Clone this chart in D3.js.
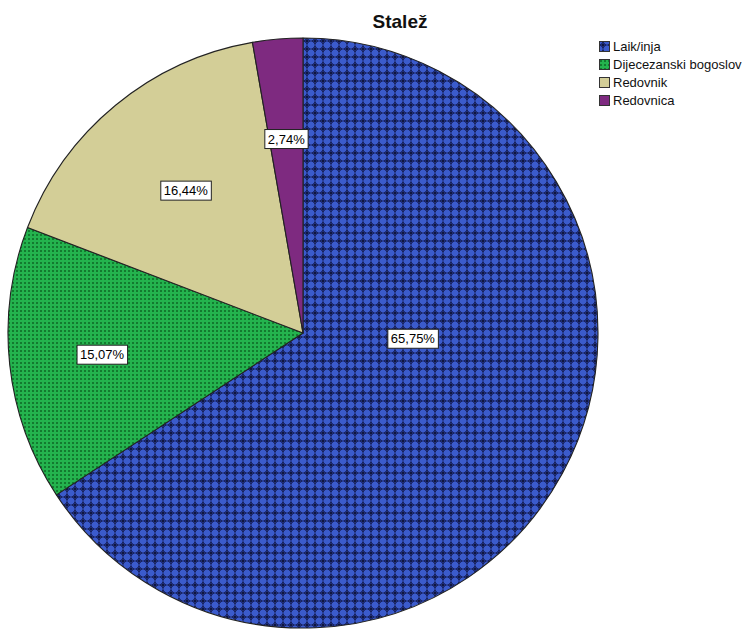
<!DOCTYPE html>
<html><head><meta charset="utf-8">
<script src="https://cdn.jsdelivr.net/npm/d3@7"></script>
<style>html,body{margin:0;padding:0;background:#fff;}svg{display:block;}</style>
</head><body>
<svg id="chart" width="755" height="629"></svg>
<script>
const title = "Stalež";
const categories = ["Laik/inja", "Dijecezanski bogoslov", "Redovnik", "Redovnica"];
const counts = [48, 11, 12, 2];
const percentLabels = ["65,75%", "15,07%", "16,44%", "2,74%"];

// label placement (fraction of radius, optional angle override in degrees)
const labelRadiusFrac = [0.373, 0.685, 0.625, 0.66];
const labelAngleDeg = [93, null, null, null];

const W = 755, H = 629;
const cx = 303, cy = 333, R = 295;

const svg = d3.select("#chart");
const defs = svg.append("defs");

// Blue crosshatch pattern
const pb = defs.append("pattern").attr("id", "pBlue").attr("patternUnits", "userSpaceOnUse")
  .attr("width", 8).attr("height", 8);
pb.append("rect").attr("width", 8).attr("height", 8).attr("fill", "#3b5bcc");
pb.append("rect").attr("x", 3).attr("y", 0).attr("width", 2).attr("height", 8).attr("fill", "#2a3f9a");
pb.append("rect").attr("x", 0).attr("y", 3).attr("width", 8).attr("height", 2).attr("fill", "#2a3f9a");
pb.append("rect").attr("x", 3).attr("y", 1).attr("width", 2).attr("height", 6).attr("fill", "#18245f");
pb.append("rect").attr("x", 1).attr("y", 3).attr("width", 6).attr("height", 2).attr("fill", "#18245f");
pb.append("rect").attr("x", 2).attr("y", 2).attr("width", 4).attr("height", 4).attr("fill", "#1f2d78");
pb.append("rect").attr("x", 3).attr("y", 3).attr("width", 2).attr("height", 2).attr("fill", "#10173f");

// Green dotted pattern
const pg = defs.append("pattern").attr("id", "pGreen").attr("patternUnits", "userSpaceOnUse")
  .attr("width", 4).attr("height", 4);
pg.append("rect").attr("width", 4).attr("height", 4).attr("fill", "#24b34e");
pg.append("rect").attr("x", 1).attr("y", 1).attr("width", 2).attr("height", 2).attr("fill", "#137a2f");

const fills = ["url(#pBlue)", "url(#pGreen)", "#d3ce97", "#7e2a80"];
const swatchFills = fills;

const pie = d3.pie().sort(null).value(d => d).startAngle(0).endAngle(2 * Math.PI);
const arcs = pie(counts);
const arc = d3.arc().innerRadius(0).outerRadius(R);

const g = svg.append("g").attr("transform", `translate(${cx},${cy})`);
g.selectAll("path.slice").data(arcs).enter().append("path")
  .attr("class", "slice")
  .attr("d", arc)
  .attr("fill", (d, i) => fills[i])
  .attr("stroke", "#222")
  .attr("stroke-width", 1.1)
  .attr("stroke-linejoin", "round");

// labels
arcs.forEach((d, i) => {
  const a = labelAngleDeg[i] != null ? labelAngleDeg[i] * Math.PI / 180 : (d.startAngle + d.endAngle) / 2;
  const r = labelRadiusFrac[i] * R;
  const x = Math.sin(a) * r, y = -Math.cos(a) * r;
  const lg = g.append("g").attr("transform", `translate(${x},${y})`);
  const t = lg.append("text").attr("text-anchor", "middle").attr("dy", "0.36em")
    .attr("font-family", "Liberation Sans, Arial, sans-serif").attr("font-size", 13)
    .attr("fill", "#000").text(percentLabels[i]);
  const bb = t.node().getBBox();
  lg.insert("rect", "text").attr("x", bb.x - 3).attr("y", -9.5).attr("width", bb.width + 6).attr("height", 19)
    .attr("fill", "#fff").attr("stroke", "#222").attr("stroke-width", 1);
});

// title
svg.append("text").attr("x", 400).attr("y", 28).attr("text-anchor", "middle")
  .attr("font-family", "Liberation Sans, Arial, sans-serif").attr("font-weight", "bold")
  .attr("font-size", 19).attr("fill", "#111").text(title);

// legend
const leg = svg.append("g").attr("transform", "translate(599,41)");
categories.forEach((c, i) => {
  const row = leg.append("g").attr("transform", `translate(0,${i * 18})`);
  row.append("rect").attr("x", 0.5).attr("y", 0.5).attr("width", 10).attr("height", 10)
    .attr("fill", swatchFills[i]).attr("stroke", "#333").attr("stroke-width", 1);
  row.append("text").attr("x", 14).attr("y", 10)
    .attr("font-family", "Liberation Sans, Arial, sans-serif").attr("font-size", 13)
    .attr("fill", "#111").text(c);
});
</script>
</body></html>
